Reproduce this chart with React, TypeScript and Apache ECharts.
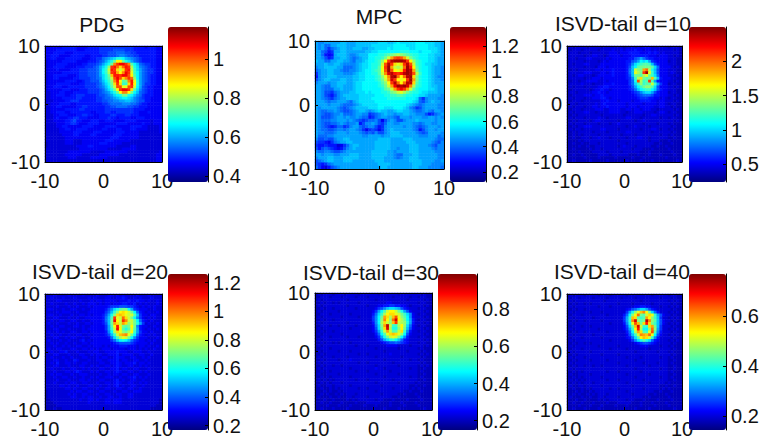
import React, { useEffect, useRef } from "react";
import * as echarts from "echarts";

// Each row is 41 cells, top (y=+10) to bottom (y=-10); each char is a level on the jet scale (0..z = 0..35).
const pdgRows = [
"44444455555444455 556666666666665555 455544",
"44445555555444555 556666677776665555 555544",
"44455554445555555 556667778887766555 555544",
"44555444455555445 555667778998776655 555544",
"44554445555554445 56689abceedba98765 555544",
"34444455555444455 5678acehmmheca8765 555544",
"34445555444445566 678acehqtvvtqgdb87 665544",
"34455554444555666 78aceiturnrutjec98 765544",
"34445444455566677 78adfkutnkntukfca8 766544",
"34444455555566677 78adfjtupmqvtlfda8 766544",
"34455555444566677 78acehouutvvsmgda8 765544",
"34455444445566667 789cegksvsnqtrida8 765544",
"34444445555445667 779bdfiqumghqulea8 765544",
"34445555544455666 678acehntnffnumea8 665544",
"34455544555555666 6789bdgkssllstkda7 655444",
"34444455544455566 6678acehmtvvtngc97 655444",
"33444554445555566 66789acehmqqmhdb87 655444",
"33445554455666555 567789acdehhedb986 555444",
"33444455555665555 5667889abcddcb9876 554444",
"33344445566655555 566778899aabba9877 554444",
"33444555544555555 555667888899988765 544444",
"33445544444556655 555566778888776655 544444",
"33444445555566555 555566666666665555 444444",
"33445554455555554 455566556666665544 454444",
"33344555444556655 445555665556655544 444444",
"33345444556655544 445556554555544555 444444",
"33344445567554445 554455544445555444 443444",
"33334445566544455 554444445555444445 443444",
"33334455444445555 444455554444455554 433334",
"33333445544555544 444554445544455444 433334",
"33333444445554444 555444445554444433 333334",
"33333344445544445 544444455544444433 333333",
"33333334444444444 444444555444444433 333333",
"33333334443334444 444455544444433333 333333",
"23333334443334444 445554444433333333 333333",
"23333333333444455 444444443333344333 333333",
"33333333333344444 444443333344444333 333333",
"33333333444444443 333344444444333333 333334",
"33333334444443333 334444444333333333 333344",
"33333333444333334 444443333333333333 333344",
"33333333333333333 333333333333333333 333344",
];

const mpcRows = [
"a99aaaaabbaaabbbb bbbcccbbcdcccccddd cccbba",
"a9a88aabbbaaabbbb bcccccccddddcccddd dccbba",
"a9a8689abbaabbbaa bbccccdcdddddccddd dcccba",
"aa8756aabbaaaaaab bccdddddddeeedddcd ddccba",
"aa8545abbba99abbb dddeefghijihgfeedd dccbba",
"aa9756aabba989abb ddeefhkpstspkhfedd dccbaa",
"baa88aabbaa98aabc ddefimtxyyyxtmifed dccbaa",
"aaabaabba9999abcc deefksxtnlntxskfed ccbbaa",
"9aabbbbaa8889abcc deegltypkjkryumged dcbaa9",
"89aabbaa98899abcd defglsysmlnuyxphed dcbaa9",
"69aabbaaa999abccd deegkqwxutuxyxsjfd dcbaa9",
"59aabbbaaaaabbccd ddefilqxyrmrxynhed dcba99",
"79abbaaabbaabbccd ddefhkpwtmlmtyphed dcbaa9",
"9aaa9aabbbaabccdd dddegimtxrmrxxnged dcbaaa",
"aa988aabbaaabccdd dddefhkpvyxywqjfed dcbbaa",
"aa9888aabaaabccdd ddddeghkptvtpkgedd dccbaa",
"aa977689aaabbcccd cdddeefhikljhfeedc cbbbaa",
"aa976579abbbbbccc ccdddeeffggfeeddcc baaaa9",
"aa987689aabbbbccc cdddddeeeeeedddc86 9aaa99",
"aaa9899aaa98abccc ccddddddddddddcb87 9abaa9",
"aaaa9aaa98889abcc cccdddddddddcba989 aaaa99",
"a9aaaaa98789abbbb cccddcccdddcb98679 aaaa99",
"a98899a987789abba 9abcbbaabccbba9889 a98aa9",
"a9877899a8889aa99 6789abaa9aabbaa999 75689a",
"a977789aa9a99a988 5689aa9987aaa9aaa9 9aa9a9",
"a988899aaa9a98767 8897479a9779aaabaa aaa9aa",
"a9877889a9899a579 9a9768aa99aaaa9989 aa99aa",
"a98765688679aa878 997569aaaaa9aa9878 9aaa9a",
"a9887789989aa9864 676469abaaaaaa9857 9aa9aa",
"a998889aaa9aaa987 879779abbbaaaaa987 8aaaa9",
"a88899aaaaaaaaa99 aaaa9aabbbbaaaaa99 9aaa89",
"9778779aabbaaaaaa aaabbbbaaaabbbaaaa aaa988",
"76654689aabbaaaaa aabbbbbaaaaabbbaaa aa9879",
"65565553468abbaaa aabbbbbaaaaaabbbaa a98799",
"75787654579abaaaa aabbbbbaa9aaabbbaa aa9899",
"9889987789aaaaaaa abbbbbaa9aaaabbbaa aaa999",
"aa9aaa99aaabbbaaa abbbbbaa988aaabbaa aaaa99",
"9aaabbaaabbbbbaaa abbbbaaa989aabbbaa aaaa99",
"789abbaaabbbaaaaa aabbbaaaaaaaabbbba aaa99a",
"765689aaaaaaaaaaa aaabbbbaaaaaaabbba aa9999",
"86435789aaaaaaaaa aaaabbaaaaaaaabbaa a99998",
];

const d10Rows = [
"23233332333323333 333233434344433333 323332",
"22333233333233334 334344454434434333 333232",
"23332333233333344 434445555444545434 333332",
"23333323344332344 443444555555444344 433232",
"23323334433333434 444445578a86554444 433322",
"23333323333234344 44445578adcda65444 423322",
"23233344333344444 4444569cefggfb7544 433322",
"23333323332444344 444457bdghhhhgc844 443232",
"22323333334434445 444458bkihprjeb744 433322",
"23333344433344345 444458bljhtylfb744 434322",
"23234433323444445 444457bhhgjlhfc844 433232",
"23333323344434444 4444569fjnhghogb54 443322",
"22332334444334344 4444468esjfgtga544 433232",
"23333433323334445 4444468cfifggkfa64 423322",
"23233323333445544 4444457adfhiigc744 433232",
"22333333234454434 44444568bdeffdb754 433322",
"23323333344544344 4444445679bcca7544 423322",
"22333344434454444 444444456788875544 433232",
"23233323344455434 444444445666554434 323322",
"22333233333344544 434444344555544344 333232",
"23323333334345444 444434444434444344 323322",
"23233323344344544 444434443444443344 332322",
"22333233334443344 443344344344433233 333232",
"23233344332333344 443323344433332344 323322",
"22323333333323333 333233333323344333 333232",
"23233323333433233 333344333233333323 323322",
"22323333234433333 323333323343333333 333232",
"23233323333233323 343333333323333233 323222",
"22323344433333333 333323343333233333 332322",
"23233233333344333 323333333233344323 323222",
"22323333323333233 333344333333323333 332322",
"22323233333233333 332333323333333323 323222",
"22322333233433323 333323334433233333 322322",
"22223233333333333 323333333333233322 232222",
"22322322333233333 333323333333332232 223222",
"22223223223333333 323433323333322322 322222",
"22322222323323333 333333233322232222 232222",
"22223222233333233 332333333222322222 223222",
"22322322222333323 333332223222322232 222322",
"22222232222322222 322222322232222222 322222",
"22322222322222322 222232222322232222 222232",
];

const d20Rows = [
"33343333433334333 343334434343333433 343333",
"33433343334333343 433344334454334343 334333",
"33334433333343334 344344443444544544 343343",
"33433334334334344 434344344455445343 433343",
"33334333433433343 444445666777665434 343433",
"34433343344334334 4444579ceghhda6544 433433",
"33334344433433344 444468bfimnmkhd854 343343",
"34433433343344343 44457aeinonlkkgb64 434433",
"33344333433433444 44458bgtlkrnkhd964 343433",
"33433443344334334 44458bhvmktqkkhd85 434333",
"34334333433433443 44457bhpnkpnikhea6 343343",
"33433443334434334 44446agmulhghmh954 433433",
"33344333433334344 44446afkvmgeglga54 343343",
"34334343344334434 444459djnlihjmfa64 434333",
"33433433433443343 444457bfkopqlhd854 343433",
"33344334344334334 4444458cgjlkhd9644 433343",
"34333433433345343 44444468bdedb86544 343433",
"33434334334334434 444444456777765444 434333",
"33343343433443343 444343444555444344 343343",
"34334433344334434 343444344443444343 433433",
"33433445333433343 443344445444334443 343333",
"33344333433344334 344334445344443344 334333",
"33433343343334433 343443345443344334 343333",
"33344334335433343 344334445344334433 433333",
"33435334434334433 334433445434445344 343333",
"33344333433344334 343344345433443343 433333",
"33433343344334343 334433445344334433 343333",
"33343334434543334 343344345433443343 433333",
"33434433343344433 334334344344334433 343333",
"33343344334334334 343344433433445343 433333",
"33334333433344343 334433345343344334 333333",
"33343334344334433 343344345433443343 433333",
"33333443433433344 334334345343344334 333333",
"33333334434334433 343344334433443343 333333",
"23333333343443344 334433343344334443 333333",
"23333333434334433 343344334433443333 333333",
"23333333344334344 334334433433443333 333333",
"22333333333343344 343344344433333333 333332",
"22233333333333343 333344344433333333 333332",
"22223333333333333 333333333333333333 333322",
"22232233333333333 333333333333333333 332222",
];

const d30Rows = [
"23233323332333323 333332333333233333 332322",
"22333233323333233 323333333323333323 323322",
"23233333333233333 333323333333333233 333232",
"22323323233333323 333333334433333333 323322",
"23233333333233333 323334455665544323 333232",
"22323323333333233 33334679bccba75433 323322",
"23233333233333333 33346adgkmmkhea743 333232",
"22333233333323333 33358cfjmnnlkhfc94 323322",
"23233333323333323 33369dhpnjosligd94 333232",
"22323323333333333 33369diqmirwmjhda5 323322",
"23233333333233333 33359djnkiotkjiea5 333232",
"22333233233333233 33348cipxkffjmic84 323322",
"23233333333323333 33347chnwjeeimhb74 333232",
"22323323333333334 33346afkpkggknf953 323322",
"23233333323333333 333358dglnonlid743 333232",
"22333233333233323 333346aehklkhd9533 323322",
"23233333333333333 3333357acefdb85433 333232",
"22323323233323333 333333456778765433 323322",
"23233333333333233 323333334444333323 333232",
"22333233333333333 333323333333233333 323222",
"23233333233323333 333333323333333233 332322",
"22323333333333323 323333333433333333 323232",
"23233323333233333 333323333333323333 332322",
"22323333233343333 333333323333333323 323222",
"23233333333333323 323333333323333333 332322",
"22323323323333333 333323333333233333 323232",
"23233333333323333 333343323333333323 322322",
"22323233333333233 323333333233333333 323222",
"23223333233333333 333323333333233333 322322",
"22323233333323333 333333323333333323 323222",
"23232323333333233 323333333323333333 322322",
"22323233323333333 333323333333233333 232222",
"23223323333323333 333333233333333322 322322",
"22322323233333323 323333333323333323 232222",
"22232322323333333 333323333333332232 223222",
"22323223232333233 333333233333223222 322222",
"23222322322332333 323333333322322222 232222",
"22232232222323233 333323322232222322 223222",
"22322322232222322 233333222322232222 322222",
"22223222322232222 322232222322223222 232222",
"22322232222322222 222322232222322222 222322",
];

const d40Rows = [
"23233323333233323 333323333333323333 323322",
"22332333323333233 332333323333333323 332322",
"23233333333332333 333333333233333333 323232",
"22323323233333333 323333233333323333 332322",
"23233333333233323 333333344554433323 323232",
"22323323333333333 33334578acca754333 332322",
"23233333233323333 33336aeiloqmhc8533 323232",
"22333233333333233 33358dimrhgknlfa74 332322",
"23233333323333333 3336afongfgpmifb63 323232",
"22323323333323333 3336afqwighxqigb74 332322",
"23233333333333323 33359elsohnunhfb74 323232",
"22333233233333333 33347chowkffnphb63 332322",
"23233333333233333 33346afmujddiria63 323232",
"22323323333333233 333358djpngflsg953 332322",
"23233333323333333 333347bfkqporld743 323232",
"22333233333323333 3333458cgmonkf9533 332322",
"23233333333333323 33333469cegec85433 323232",
"22323323233333333 333333345677654333 332322",
"23233333333233333 323333333444333323 323222",
"22333233333333323 333323333333233333 332322",
"23233333233333333 333333323333333233 323222",
"22323333333323333 323333333333333333 332322",
"23233323333333333 333323333233333323 323222",
"22323333233333233 333333323333333333 322322",
"23233333333333333 323333333323333233 323222",
"22323323323323333 333323333333233333 322322",
"23233333333333333 333333323333333323 322322",
"22323233333333233 323333333233333333 323222",
"23223333233333333 333323333333233333 322322",
"22323233333323333 333333323333333323 323222",
"23232323333333233 323333333323333333 322322",
"22323233323333333 333323333333233333 232222",
"23223323333323333 333333233333333322 322322",
"22322323233333323 323333333323333323 232222",
"22232322323333333 333323333333332232 223222",
"22323223232333233 333333233333223222 322222",
"23222322322332333 323333333322322222 232222",
"22232232222323233 333323322232222322 223222",
"22322322232222322 233333222322232222 322222",
"22223222322232222 322232222322223222 232222",
"22322232222322222 222322232222322222 222322",
];

const titles = ["PDG", "MPC", "ISVD-tail d=10", "ISVD-tail d=20", "ISVD-tail d=30", "ISVD-tail d=40"];
const grids = [pdgRows, mpcRows, d10Rows, d20Rows, d30Rows, d40Rows];
const colorMins = [0.37, 0.12, 0.24, 0.17, 0.15, 0.144];
const colorMaxs = [1.165, 1.35, 2.5, 1.26, 0.99, 0.768];
const colorTicks = [
  [0.4, 0.6, 0.8, 1],
  [0.2, 0.4, 0.6, 0.8, 1, 1.2],
  [0.5, 1, 1.5, 2],
  [0.2, 0.4, 0.6, 0.8, 1, 1.2],
  [0.2, 0.4, 0.6, 0.8],
  [0.2, 0.4, 0.6],
];
const axisTicks = [-10, 0, 10];
const jet = ["#000080", "#0000ff", "#0080ff", "#00ffff", "#80ff80", "#ffff00", "#ff8000", "#ff0000", "#800000"];

// layout: [plot left, top, width, height, bar left, bar top, bar width, bar height, title x, title y]
const layouts = [
  [45, 46, 117, 116, 168, 27, 40, 155, 102, 24],
  [315, 41, 129, 128, 450, 27, 36, 155, 379, 16],
  [567, 46, 115, 116, 689, 27, 37, 155, 623, 23],
  [45, 294, 117, 116, 168, 274, 40, 156, 100, 271],
  [315, 293, 117, 118, 438, 274, 39, 156, 371, 272],
  [567, 294, 115, 116, 689, 274, 37, 156, 622, 271],
];

const FONT = "Liberation Sans";
const INK = "#111";
const cellNames = Array.from({ length: 41 }, (_, i) => String(i));

function decode(rows: string[], min: number, max: number) {
  const out: number[][] = [];
  rows.forEach((row, r) => {
    const [a, b, c] = row.split(" ");
    const full = a.padEnd(17, a[a.length - 1]).slice(0, 17) + b.padEnd(18, b[b.length - 1]).slice(0, 18) + c.padEnd(6, c[c.length - 1]).slice(0, 6);
    for (let i = 0; i < 41; i++) {
      out.push([i, 40 - r, min + (parseInt(full[i], 36) / 35) * (max - min)]);
    }
  });
  return out;
}

export default function App() {
  const ref = useRef<HTMLDivElement>(null);
  useEffect(() => {
    document.body.style.margin = "0";
    const chart = echarts.init(ref.current!, undefined, { renderer: "svg" });
    const grid: any[] = [];
    const xAxis: any[] = [];
    const yAxis: any[] = [];
    const series: any[] = [];
    const visualMap: any[] = [];
    const title: any[] = [];
    layouts.forEach((l, i) => {
      const [px, py, pw, ph, bx, by, bw, bh, tx, ty] = l;
      const mn = colorMins[i];
      const mx = colorMaxs[i];
      grid.push({ left: px, top: py, width: pw, height: ph, containLabel: false });
      grid.push({ left: bx, top: by, width: bw, height: bh, containLabel: false });
      const line = { show: true, onZero: false, lineStyle: { color: "#000", width: 1 } };
      const ticks = { show: true, inside: true, length: 3, lineStyle: { color: "#000", width: 1 } };
      xAxis.push({
        type: "category", gridIndex: 2 * i, data: cellNames, position: "top", z: 3,
        axisLine: line, axisTick: { show: false }, axisLabel: { show: false }, splitLine: { show: false },
      });
      xAxis.push({
        type: "value", gridIndex: 2 * i, min: -10, max: 10, interval: 10, position: "bottom", z: 3,
        axisLine: line, axisTick: ticks, splitLine: { show: false },
        axisLabel: { color: INK, fontFamily: FONT, fontSize: 20, margin: 9, customValues: axisTicks, hideOverlap: false },
      });
      xAxis.push({ type: "value", gridIndex: 2 * i + 1, show: false, min: 0, max: 1 });
      yAxis.push({
        type: "category", gridIndex: 2 * i, data: cellNames, position: "right", z: 3,
        axisLine: line, axisTick: { show: false }, axisLabel: { show: false }, splitLine: { show: false },
      });
      yAxis.push({
        type: "value", gridIndex: 2 * i, min: -10, max: 10, interval: 10, position: "left", z: 3,
        axisLine: line, axisTick: ticks, splitLine: { show: false },
        axisLabel: { color: INK, fontFamily: FONT, fontSize: 20, margin: 5, padding: [6, 0, 0, 0], customValues: axisTicks, hideOverlap: false },
      });
      yAxis.push({
        type: "value", gridIndex: 2 * i + 1, min: mn, max: mx, position: "right", z: 5,
        axisLine: line,
        axisTick: { show: true, inside: true, length: 3, lineStyle: { color: "#000" }, customValues: colorTicks[i] },
        splitLine: { show: false },
        axisLabel: { color: INK, fontFamily: FONT, fontSize: 20, margin: 5, padding: [4, 0, 0, 0], customValues: colorTicks[i], hideOverlap: false },
      });
      series.push({
        type: "heatmap", xAxisIndex: 3 * i, yAxisIndex: 3 * i, data: decode(grids[i], mn, mx),
        silent: true, progressive: 0, z: 2, emphasis: { disabled: true },
      });
      visualMap.push({
        type: "continuous", seriesIndex: i, min: mn, max: mx, calculable: false, realtime: false, hoverLink: false,
        left: bx, top: by, itemWidth: bw, itemHeight: bh, padding: 0, borderWidth: 0,
        inRange: { color: jet }, z: 4,
      });
      title.push({
        text: titles[i], left: tx, top: ty, padding: 0, z: 3,
        textAlign: "center", textVerticalAlign: "middle",
        textStyle: { color: INK, fontFamily: FONT, fontSize: 21, fontWeight: "normal" },
      });
    });
    chart.setOption({
      animation: false, backgroundColor: "#fff",
      title, grid, xAxis, yAxis, series, visualMap,
    });
    return () => chart.dispose();
  }, []);
  return <div ref={ref} style={{ width: 770, height: 439 }} />;
}
